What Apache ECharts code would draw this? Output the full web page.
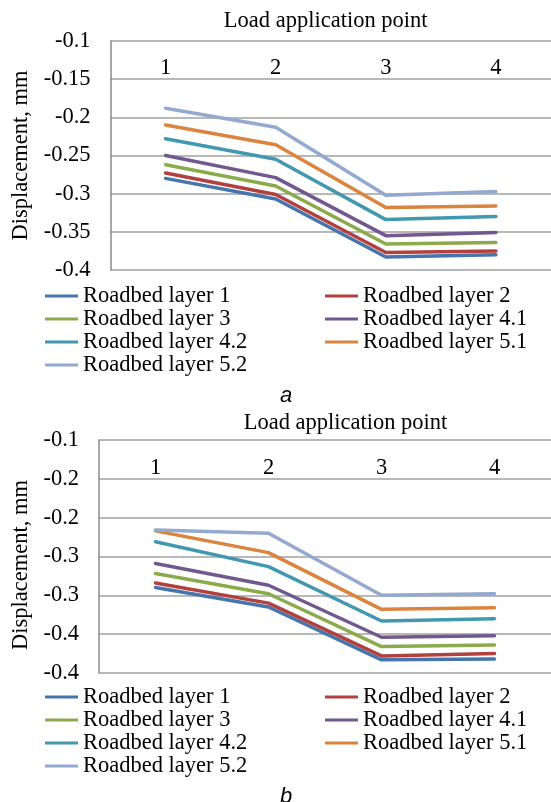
<!DOCTYPE html>
<html>
<head>
<meta charset="utf-8">
<script src="https://cdn.jsdelivr.net/npm/echarts@6/dist/echarts.min.js"></script>
<style>
  html, body { margin: 0; padding: 0; background: #ffffff; }
  #chart { width: 551px; height: 802px; }
</style>
</head>
<body>
<div id="chart"></div>
<script>
// ---------- data ----------
const categories = ['1', '2', '3', '4'];
const seriesNames = ['Roadbed layer 1', 'Roadbed layer 2', 'Roadbed layer 3', 'Roadbed layer 4.1',
                     'Roadbed layer 4.2', 'Roadbed layer 5.1', 'Roadbed layer 5.2'];
const seriesColors = ['#4674AC', '#B0413E', '#8BAA4B', '#71588F', '#4198AF', '#DB843D', '#93A9CF'];

// chart a
const aLayer1  = [-0.280, -0.307, -0.383, -0.380];
const aLayer2  = [-0.273, -0.301, -0.377, -0.375];
const aLayer3  = [-0.262, -0.290, -0.366, -0.364];
const aLayer41 = [-0.250, -0.279, -0.355, -0.351];
const aLayer42 = [-0.228, -0.255, -0.334, -0.330];
const aLayer51 = [-0.210, -0.236, -0.318, -0.316];
const aLayer52 = [-0.188, -0.213, -0.302, -0.297];

// chart b
const bLayer1  = [-0.290, -0.315, -0.383, -0.382];
const bLayer2  = [-0.284, -0.310, -0.378, -0.375];
const bLayer3  = [-0.272, -0.298, -0.366, -0.364];
const bLayer41 = [-0.259, -0.287, -0.354, -0.352];
const bLayer42 = [-0.231, -0.263, -0.333, -0.330];
const bLayer51 = [-0.217, -0.245, -0.318, -0.316];
const bLayer52 = [-0.216, -0.220, -0.300, -0.298];

// tick labels (from top of axis, -0.1, down to -0.4)
const aTickLabels = ['-0.1', '-0.15', '-0.2', '-0.25', '-0.3', '-0.35', '-0.4'];
const bTickLabels = ['-0.1', '-0.2', '-0.2', '-0.3', '-0.3', '-0.4', '-0.4'];

const xAxisTitle = 'Load application point';
const yAxisTitle = 'Displacement, mm';
const captions = ['a', 'b'];

// ---------- chart ----------
const aData = [aLayer1, aLayer2, aLayer3, aLayer41, aLayer42, aLayer51, aLayer52];
const bData = [bLayer1, bLayer2, bLayer3, bLayer41, bLayer42, bLayer51, bLayer52];

const FONT = '"Liberation Serif", "Times New Roman", serif';
const FS = 22.5;

function tickFormatter(labels) {
  return function (v) {
    const i = Math.round((-0.1 - v) / 0.05);
    return labels[i] !== undefined ? labels[i] : '';
  };
}

function yAxisCfg(gridIndex, labels, nameGap, namePadding) {
  return {
    type: 'value', gridIndex: gridIndex,
    min: -0.4, max: -0.1, interval: 0.05,
    name: yAxisTitle, nameLocation: 'middle', nameGap: nameGap,
    nameTextStyle: { fontFamily: FONT, fontSize: FS, color: '#000', padding: namePadding },
    axisLine: { show: true, lineStyle: { color: '#8a8a8a', width: 1.5 } },
    axisTick: { show: false },
    axisLabel: { fontFamily: FONT, fontSize: FS, color: '#000', margin: 20, formatter: tickFormatter(labels) },
    splitLine: { show: true, lineStyle: { color: '#a0a0a0', width: 1.5 } }
  };
}

function xAxisCfg(gridIndex, margin) {
  return {
    type: 'category', gridIndex: gridIndex, data: categories, position: 'top',
    boundaryGap: true,
    axisLine: { show: false }, axisTick: { show: false },
    axisLabel: { inside: true, margin: margin, fontFamily: FONT, fontSize: FS, color: '#000' },
    splitLine: { show: false }
  };
}

const series = [];
[aData, bData].forEach(function (set, gi) {
  set.forEach(function (vals, si) {
    series.push({
      name: seriesNames[si], type: 'line', xAxisIndex: gi, yAxisIndex: gi,
      data: vals, symbol: 'none', silent: true,
      lineStyle: { color: seriesColors[si], width: 3.5, cap: 'round', join: 'round' },
      itemStyle: { color: seriesColors[si] }
    });
  });
});

function legendCfg(names, left, top) {
  return {
    data: names, orient: 'vertical', left: left, top: top, padding: 0,
    itemGap: 0, itemWidth: 33, itemHeight: 3, icon: 'rect',
    selectedMode: false,
    textStyle: { fontFamily: FONT, fontSize: FS, color: '#000', lineHeight: 23 }
  };
}
const col1 = [seriesNames[0], seriesNames[2], seriesNames[4], seriesNames[6]];
const col2 = [seriesNames[1], seriesNames[3], seriesNames[5]];

const option = {
  backgroundColor: '#ffffff',
  animation: false,
  grid: [
    { left: 110.5, right: -1.5, top: 41, height: 229 },
    { left: 99, right: -7, top: 440, height: 233 }
  ],
  xAxis: [xAxisCfg(0, 16), xAxisCfg(1, 17)],
  yAxis: [yAxisCfg(0, aTickLabels, 69, [0, 0, 0, 0]), yAxisCfg(1, bTickLabels, 57, [0, 17, 0, 0])],
  legend: [
    legendCfg(col1, 45, 284.5), legendCfg(col2, 325, 284.5),
    legendCfg(col1, 45, 685.5), legendCfg(col2, 325, 685.5)
  ],
  graphic: [
    { type: 'text', x: 325.7, y: 21, style: { text: xAxisTitle, font: FS + 'px ' + FONT, fill: '#000', textAlign: 'center', textVerticalAlign: 'middle' } },
    { type: 'text', x: 345.5, y: 423, style: { text: xAxisTitle, font: FS + 'px ' + FONT, fill: '#000', textAlign: 'center', textVerticalAlign: 'middle' } },
    { type: 'text', x: 286, y: 396, style: { text: captions[0], font: 'italic 22px "Liberation Sans", Arial, sans-serif', fill: '#000', textAlign: 'center', textVerticalAlign: 'middle' } },
    { type: 'text', x: 286, y: 797, style: { text: captions[1], font: 'italic 22px "Liberation Sans", Arial, sans-serif', fill: '#000', textAlign: 'center', textVerticalAlign: 'middle' } }
  ],
  series: series
};

const chart = echarts.init(document.getElementById('chart'), null, { renderer: 'canvas' });
chart.setOption(option);
</script>
</body>
</html>
